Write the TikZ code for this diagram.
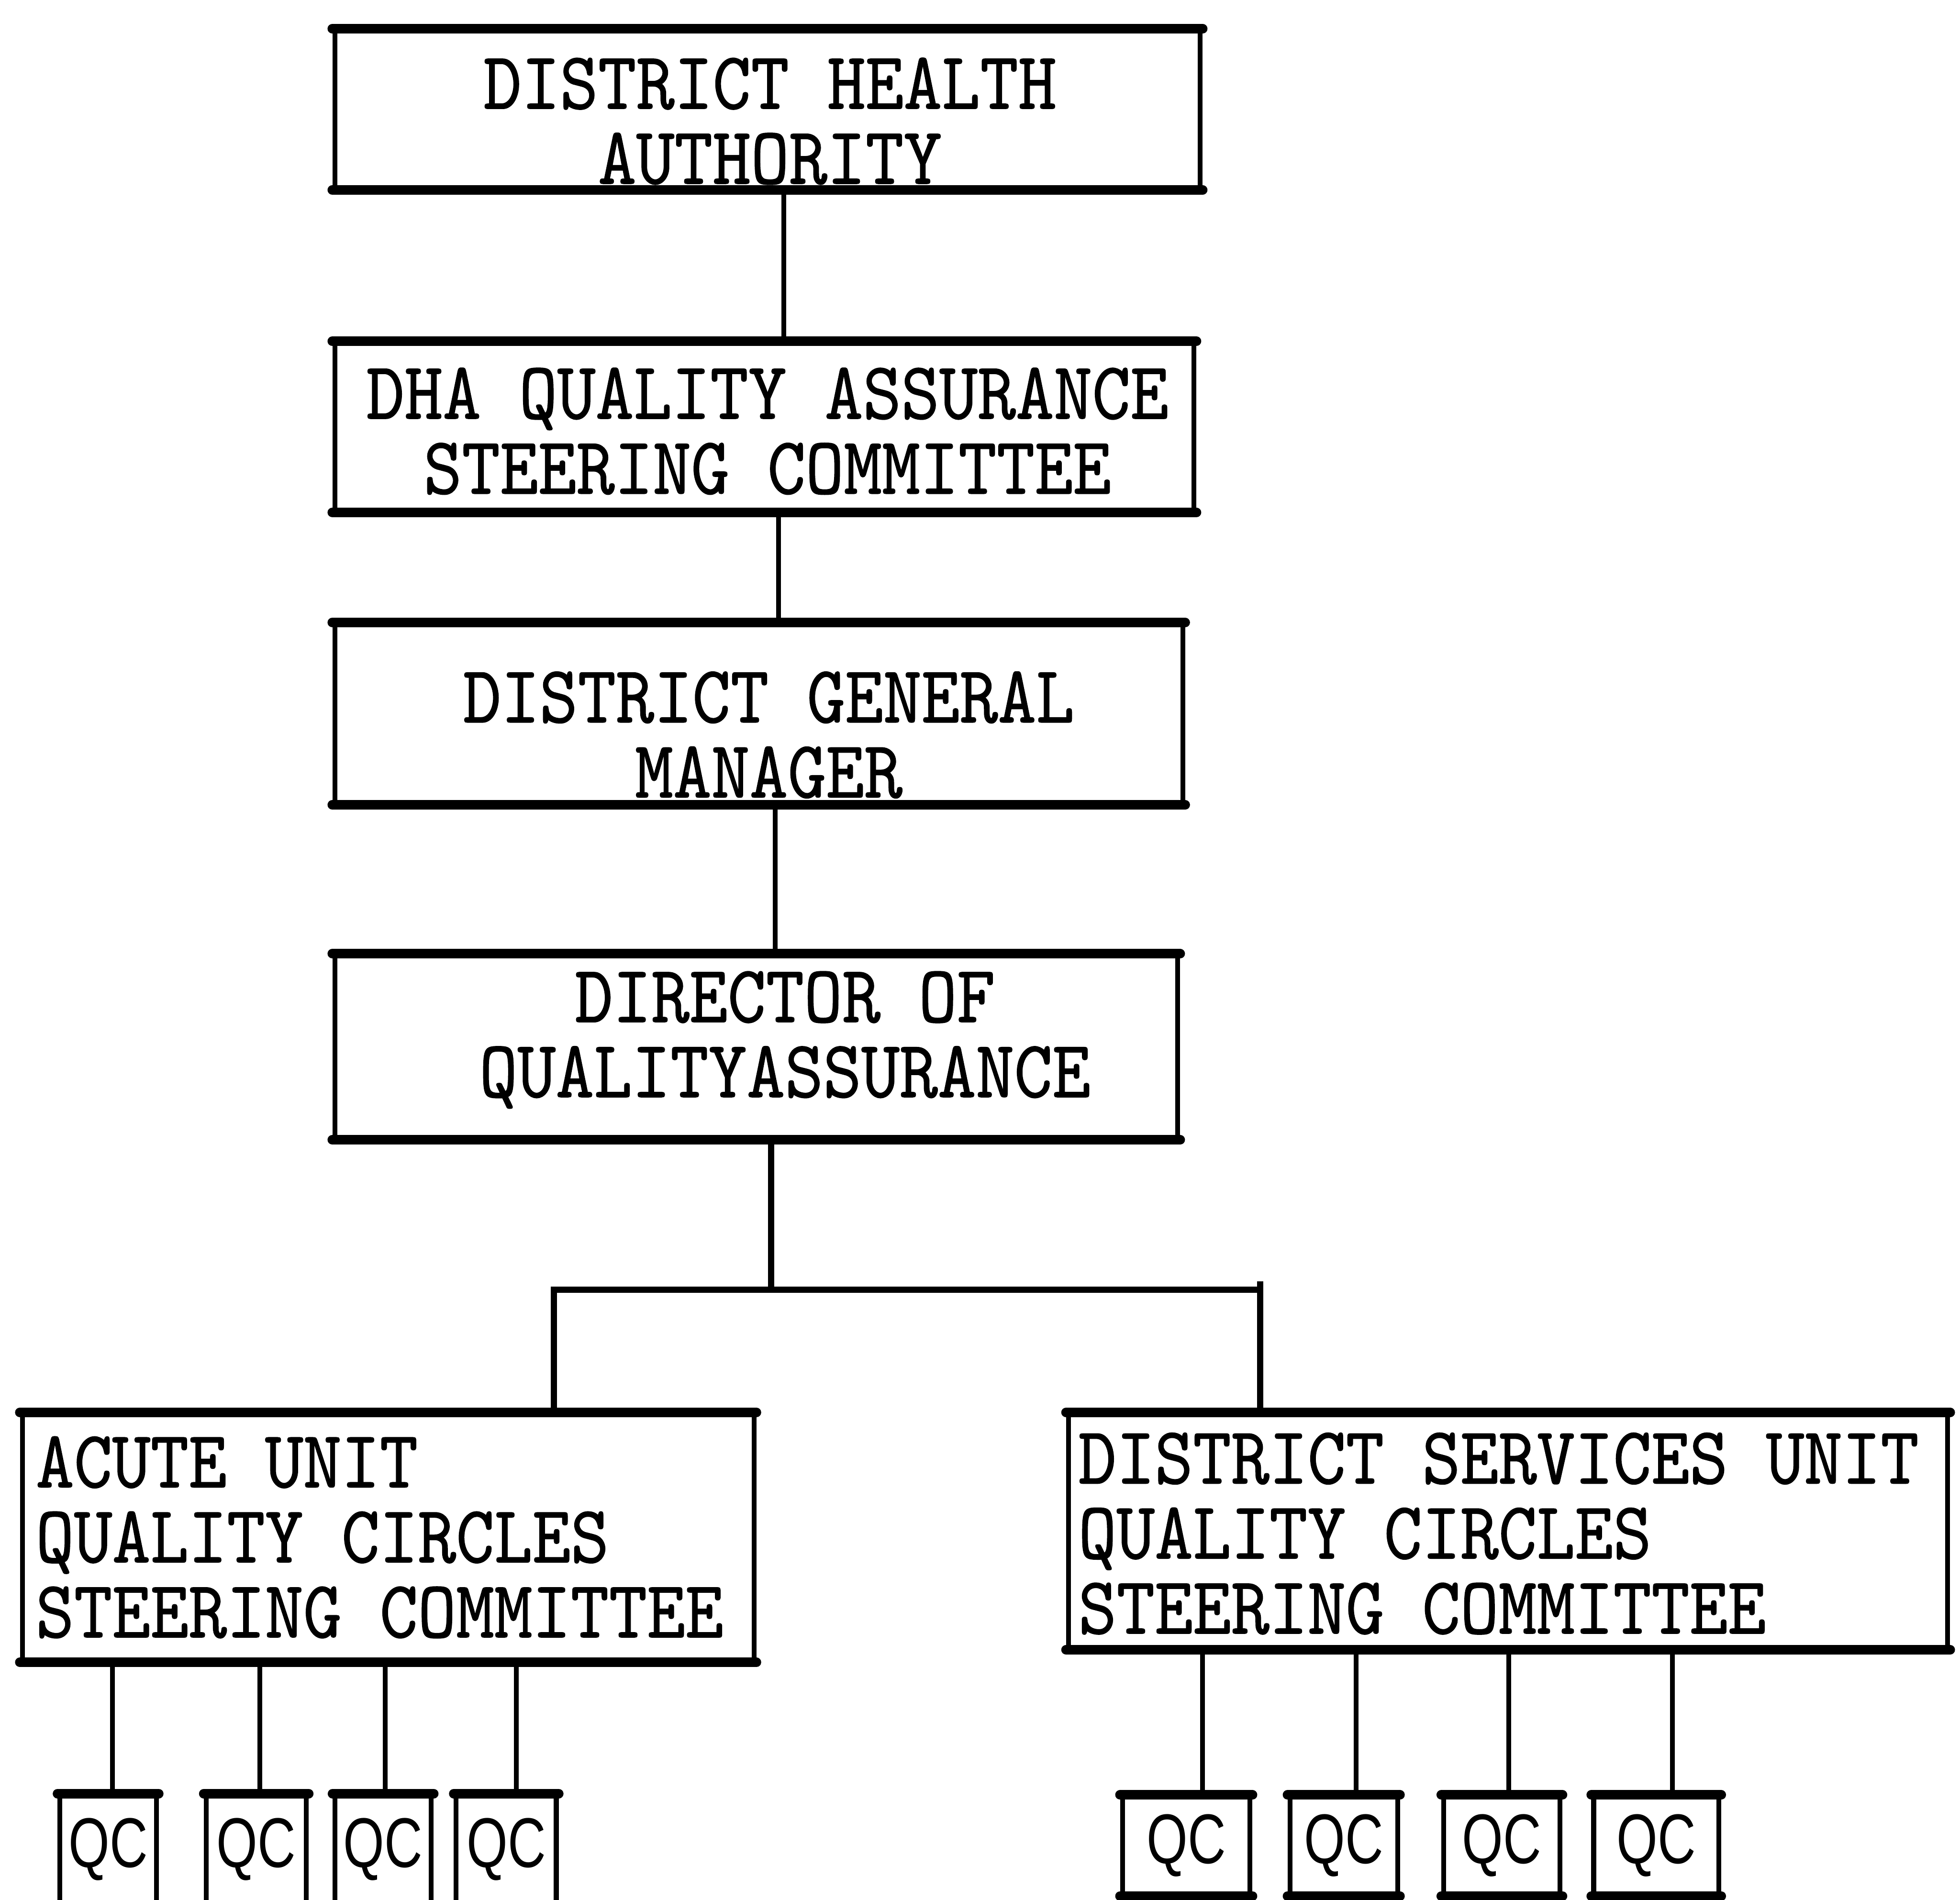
\documentclass[tikz,border=0pt]{standalone}
\usepackage{fontspec}
\newfontfamily\typer{lmmono10-regular.otf}[FakeStretch=0.89,FakeBold=0.8]
\newfontfamily\qcfont{Liberation Sans}[FakeStretch=0.75]
\begin{document}
\begin{tikzpicture}[x=0.01cm,y=-0.01cm,
  orgbox/.style={draw,line width=1.1pt,rectangle,inner sep=0pt,
    append after command={
      (\tikzlastnode.north west) edge[heavyedge] (\tikzlastnode.north east)
      (\tikzlastnode.south west) edge[heavyedge] (\tikzlastnode.south east)}},
  heavyedge/.style={line width=2.2pt,line cap=round},
  qcbox/.style={orgbox,font=\qcfont\fontsize{16}{16}\selectfont},
  label/.style={font=\typer\fontsize{18.6}{17.07}\selectfont,inner sep=0pt},
  link/.style={line width=1.1pt}]
\useasboundingbox (0,0) rectangle (1568,1520);

% main chain of boxes
\node[orgbox,minimum width=6.92cm,minimum height=1.25cm] (dha)  at (614,87.5)  {};
\node[label,align=center] (dhat) at (616,97) {DISTRICT HEALTH\\AUTHORITY};

\node[orgbox,minimum width=6.87cm,minimum height=1.33cm] (qasc) at (611.5,341.5) {};
\node[label,align=center] (qasct) at (614,345) {DHA QUALITY ASSURANCE\\STEERING COMMITTEE};

\node[orgbox,minimum width=6.78cm,minimum height=1.42cm] (dgm)  at (607,571) {};
\node[label,align=center] (dgmt) at (615,588) {DISTRICT GENERAL\\MANAGER};

\node[orgbox,minimum width=6.74cm,minimum height=1.45cm] (dqa)  at (605,837.5) {};
\node[label,align=center] (dqat) at (628,832) {DIRECTOR OF\\QUALITYASSURANCE};

% unit steering committees
\node[orgbox,minimum width=5.85cm,minimum height=1.96cm] (acute) at (310.5,1230) {};
\node[label,align=left,anchor=west] (acutet) at (28,1230)
  {ACUTE UNIT\\QUALITY CIRCLES\\STEERING COMMITTEE};

\node[orgbox,minimum width=7.03cm,minimum height=1.86cm] (dsu) at (1206.5,1225) {};
\node[label,align=left,anchor=west] (dsut) at (862,1227)
  {DISTRICT SERVICES UNIT\\QUALITY CIRCLES\\STEERING COMMITTEE};

% quality circles
\node[qcbox,minimum width=0.77cm,minimum height=0.85cm] (qc1) at (86.5,1479.5) {QC};
\node[qcbox,minimum width=0.80cm,minimum height=0.85cm] (qc2) at (205,1479.5) {QC};
\node[qcbox,minimum width=0.77cm,minimum height=0.85cm] (qc3) at (306.5,1479.5) {QC};
\node[qcbox,minimum width=0.80cm,minimum height=0.85cm] (qc4) at (405,1479.5) {QC};

\node[qcbox,minimum width=1.02cm,minimum height=0.77cm] (qc5) at (949,1476.5) {QC};
\node[qcbox,minimum width=0.86cm,minimum height=0.77cm] (qc6) at (1075,1476.5) {QC};
\node[qcbox,minimum width=0.93cm,minimum height=0.77cm] (qc7) at (1201.5,1476.5) {QC};
\node[qcbox,minimum width=1.00cm,minimum height=0.77cm] (qc8) at (1325,1476.5) {QC};

% vertical chain
\draw[link] (dha.south -| 627,0) -- (qasc.north -| 627,0);
\draw[link] (qasc.south -| 623,0) -- (dgm.north -| 623,0);
\draw[link] (dgm.south -| 620,0) -- (dqa.north -| 620,0);

% branch to the two units
\coordinate (stem) at (617,1032);
\coordinate (lbr) at (443,1032);
\coordinate (rbr) at (1008,1032);
\coordinate (rtop) at (1008,1025);
\draw[link,line width=1.4pt] (stem |- dqa.south) -- (stem);
\draw[link,line width=1.4pt] (lbr |- acute.north) -- (lbr) -- (rbr);
\draw[link,line width=1.4pt] (rtop) -- (rbr |- dsu.north);

% circles under each unit
\foreach \q/\s in {qc1/0.035cm,qc2/0.03cm,qc3/0.015cm,qc4/0.08cm}
  \draw[link] ([xshift=\s]\q.north |- acute.south) -- ([xshift=\s]\q.north);
\foreach \q/\s in {qc5/0.13cm,qc6/0.1cm,qc7/0.055cm,qc8/0.13cm}
  \draw[link] ([xshift=\s]\q.north |- dsu.south) -- ([xshift=\s]\q.north);
\end{tikzpicture}
\end{document}
